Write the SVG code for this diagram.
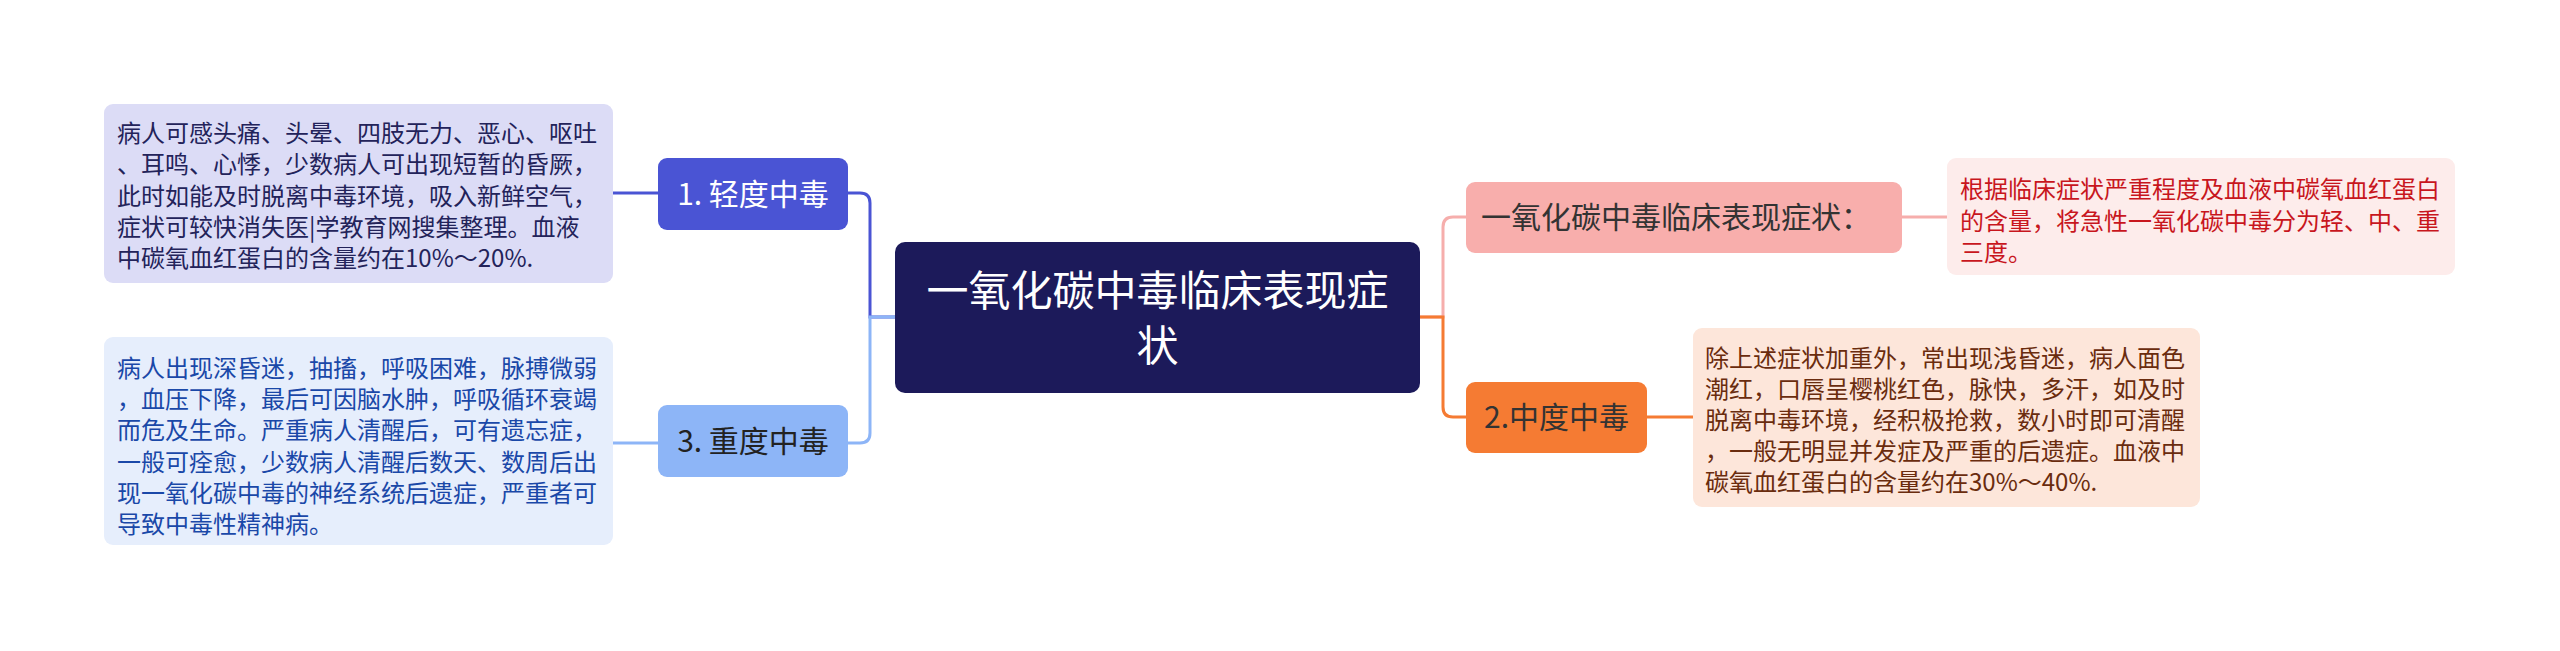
<svg xmlns="http://www.w3.org/2000/svg" width="2560" height="651" viewBox="0 0 2560 651">
<style>
text{font-family:"Noto Sans CJK SC","Noto Sans",sans-serif;}
.body{font-size:24px;}
.topic{font-size:30px;}
.conn{fill:none;stroke-width:3;}
</style>
<rect width="2560" height="651" fill="#ffffff"/>
<g id="connectors">
  <path class="conn" stroke="#4a54d4" d="M895,317 H870 V203 Q870,193 860,193 H848"/>
  <path class="conn" stroke="#8db5f7" d="M895,317 H870 V433 Q870,443 860,443 H848"/>
  <path class="conn" stroke="#4a54d4" d="M612,193 H658"/>
  <path class="conn" stroke="#8db5f7" d="M612,443 H658"/>
  <path class="conn" stroke="#f6aeac" d="M1420,317 H1443 V227 Q1443,217 1453,217 H1466"/>
  <path class="conn" stroke="#f57b33" d="M1420,317 H1443 V407 Q1443,417 1453,417 H1466"/>
  <path class="conn" stroke="#f6aeac" d="M1901,217 H1947"/>
  <path class="conn" stroke="#f57b33" d="M1647,417 H1693"/>
</g>
<g id="central">
  <rect x="895" y="242" width="525" height="151" rx="10" fill="#1c1a5a"/>
  <text x="1157.5" y="306" font-size="42" fill="#ffffff" text-anchor="middle">一氧化碳中毒临床表现症</text>
  <text x="1157.5" y="361" font-size="42" fill="#ffffff" text-anchor="middle">状</text>
</g>
<g id="node-mild">
  <rect x="658" y="158" width="190" height="72" rx="9" fill="#4a54d4"/>
  <text class="topic" x="753" y="205" fill="#ffffff" text-anchor="middle">1. 轻度中毒</text>
</g>
<g id="note-mild">
  <rect x="104" y="104" width="509" height="179" rx="9" fill="#dcdcf6"/>
  <text class="body" fill="#23235a">
    <tspan x="117" y="142">病人可感头痛、头晕、四肢无力、恶心、呕吐</tspan>
    <tspan x="117" y="173.3">、耳鸣、心悸，少数病人可出现短暂的昏厥，</tspan>
    <tspan x="117" y="204.6">此时如能及时脱离中毒环境，吸入新鲜空气，</tspan>
    <tspan x="117" y="235.9">症状可较快消失医|学教育网搜集整理。血液</tspan>
    <tspan x="117" y="267.2">中碳氧血红蛋白的含量约在10%～20%.</tspan>
  </text>
</g>
<g id="node-severe">
  <rect x="658" y="405" width="190" height="72" rx="9" fill="#8db5f7"/>
  <text class="topic" x="753" y="452" fill="#222222" text-anchor="middle">3. 重度中毒</text>
</g>
<g id="note-severe">
  <rect x="104" y="337" width="509" height="208" rx="9" fill="#e6eefc"/>
  <text class="body" fill="#1a48a8">
    <tspan x="117" y="377">病人出现深昏迷，抽搐，呼吸困难，脉搏微弱</tspan>
    <tspan x="117" y="408.2">，血压下降，最后可因脑水肿，呼吸循环衰竭</tspan>
    <tspan x="117" y="439.4">而危及生命。严重病人清醒后，可有遗忘症，</tspan>
    <tspan x="117" y="470.6">一般可痊愈，少数病人清醒后数天、数周后出</tspan>
    <tspan x="117" y="501.8">现一氧化碳中毒的神经系统后遗症，严重者可</tspan>
    <tspan x="117" y="533">导致中毒性精神病。</tspan>
  </text>
</g>
<g id="node-symptoms">
  <rect x="1466" y="182" width="436" height="71" rx="9" fill="#f8aeac"/>
  <text class="topic" x="1481" y="228" fill="#333333">一氧化碳中毒临床表现症状：</text>
</g>
<g id="note-symptoms">
  <rect x="1947" y="158" width="508" height="117" rx="9" fill="#fdeceb"/>
  <text class="body" fill="#c8161d">
    <tspan x="1960" y="198">根据临床症状严重程度及血液中碳氧血红蛋白</tspan>
    <tspan x="1960" y="229.5">的含量，将急性一氧化碳中毒分为轻、中、重</tspan>
    <tspan x="1960" y="261">三度。</tspan>
  </text>
</g>
<g id="node-moderate">
  <rect x="1466" y="382" width="181" height="71" rx="9" fill="#f57b33"/>
  <text class="topic" x="1556.5" y="428" fill="#333333" text-anchor="middle">2.中度中毒</text>
</g>
<g id="note-moderate">
  <rect x="1693" y="328" width="507" height="179" rx="9" fill="#fde6da"/>
  <text class="body" fill="#6a2c0e">
    <tspan x="1705" y="367">除上述症状加重外，常出现浅昏迷，病人面色</tspan>
    <tspan x="1705" y="398">潮红，口唇呈樱桃红色，脉快，多汗，如及时</tspan>
    <tspan x="1705" y="429">脱离中毒环境，经积极抢救，数小时即可清醒</tspan>
    <tspan x="1705" y="460">，一般无明显并发症及严重的后遗症。血液中</tspan>
    <tspan x="1705" y="491">碳氧血红蛋白的含量约在30%～40%.</tspan>
  </text>
</g>
</svg>
